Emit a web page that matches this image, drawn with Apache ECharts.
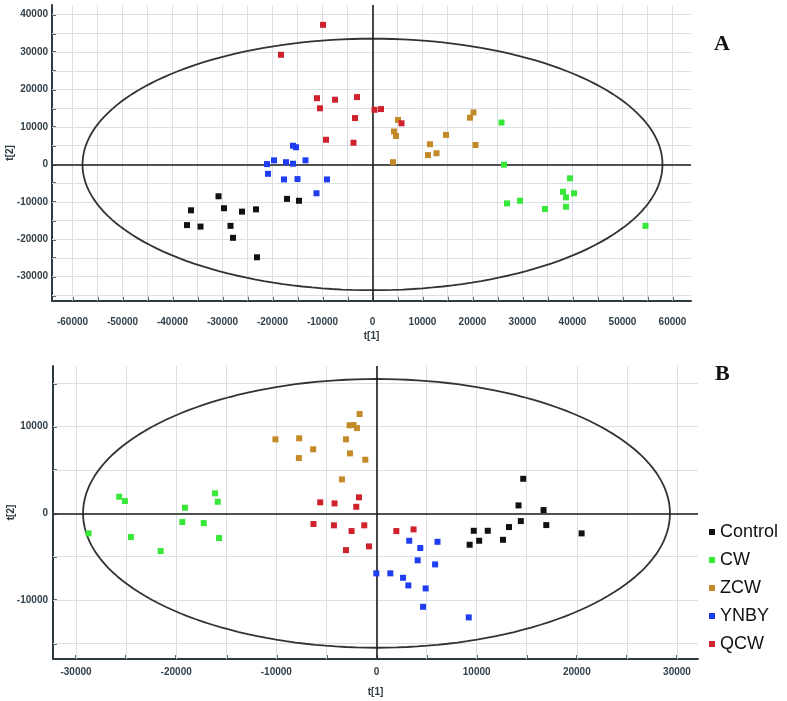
<!DOCTYPE html>
<html><head><meta charset="utf-8">
<script src="https://cdn.jsdelivr.net/npm/echarts@6/dist/echarts.min.js"></script>
<style>html,body{margin:0;padding:0;background:#fff}#c{width:787px;height:701px}</style>
</head><body><div id="c"></div>
<script>
// ---------- data ----------
const groups = ['Control', 'CW', 'ZCW', 'YNBY', 'QCW'];
const groupColors = ['#111111', '#38e838', '#c48a28', '#1f3ef2', '#d0222c'];

// Panel A  [t1, t2]
const controlA = [[-30800,-8500],[-36300,-12250],[-29700,-11700],[-26100,-12600],[-23300,-12000],[-17100,-9200],[-14700,-9700],[-37100,-16200],[-34400,-16600],[-28400,-16400],[-27900,-19600],[-23100,-24800]];
const cwA = [[25800,11200],[26300,-50],[26900,-10400],[29500,-9700],[34500,-11900],[39500,-3700],[38100,-7300],[38700,-8800],[40300,-7700],[38700,-11300],[54600,-16400]];
const zcwA = [[5100,11900],[4300,8800],[4700,7600],[4100,600],[11500,5400],[11100,2500],[12800,3000],[14700,7900],[19500,12500],[20200,13900],[20600,5200]];
const ynbyA = [[-21100,100],[-19700,1100],[-20900,-2500],[-17300,600],[-15900,200],[-15900,5000],[-15300,4600],[-13400,1100],[-17700,-4000],[-15000,-3900],[-9100,-4000],[-11200,-7700]];
const qcwA = [[-9900,37300],[-18300,29300],[-11100,17700],[-7500,17300],[-3100,18000],[-10500,15000],[-3500,12400],[-9300,6600],[-3800,5800],[400,14600],[1700,14800],[5800,11000]];

// Panel B  [t1, t2]
const controlB = [[14650,3990],[14180,920],[16680,380],[14410,-890],[16950,-1350],[20480,-2310],[9710,-2010],[11110,-2010],[13230,-1580],[9300,-3620],[10250,-3160],[12630,-3050]];
const cwB = [[-25690,1920],[-25120,1420],[-28750,-2310],[-24520,-2730],[-21550,-4350],[-19120,650],[-19390,-1000],[-17250,-1120],[-16120,2310],[-15850,1340],[-15720,-2850]];
const zcwB = [[-10090,8540],[-7720,8660],[-7750,6380],[-6320,7390],[-3050,8540],[-2650,6920],[-2690,10160],[-2290,10190],[-1950,9840],[-1690,11460],[-1120,6190],[-3450,3920]];
const ynbyB = [[-20,-6920],[1380,-6920],[3270,-3160],[4370,-4000],[6090,-3280],[4110,-5420],[5850,-5890],[2650,-7430],[3180,-8310],[4910,-8660],[4650,-10780],[9210,-12000]];
const qcwB = [[-5620,1270],[-4190,1150],[-1750,1850],[-2020,760],[-6290,-1230],[-4250,-1380],[-2490,-2040],[-1220,-1380],[-3050,-4240],[-750,-3810],[1980,-2040],[3700,-1850]];

// Hotelling T2 ellipse semi-axes [t1, t2]
const ellipseA = [58000, 33600];
const ellipseB = [29300, 15500];

// axis ranges
const xRangeA = [-64100, 63700];
const yRangeA = [-36400, 42600];
const xRangeB = [-32300, 32100];
const yRangeB = [-16800, 17000];

// ticks (also grid lines) and tick labels
const xTicksA = [-60000,-55000,-50000,-45000,-40000,-35000,-30000,-25000,-20000,-15000,-10000,-5000,0,5000,10000,15000,20000,25000,30000,35000,40000,45000,50000,55000,60000];
const xLabelsA = [-60000,-50000,-40000,-30000,-20000,-10000,0,10000,20000,30000,40000,50000,60000];
const yTicksA = [-35000,-30000,-25000,-20000,-15000,-10000,-5000,0,5000,10000,15000,20000,25000,30000,35000,40000];
const yLabelsA = [-30000,-20000,-10000,0,10000,20000,30000,40000];
const xTicksB = [-30000,-25000,-20000,-15000,-10000,-5000,0,5000,10000,15000,20000,25000,30000];
const xLabelsB = [-30000,-20000,-10000,0,10000,20000,30000];
const yTicksB = [-15000,-10000,-5000,0,5000,10000,15000];
const yLabelsB = [-10000,0,10000];

// ---------- chart ----------
const axisColor = '#2c3a42';
const gridColor = '#d9e1e6';
const labelFont = {fontFamily: '"Liberation Sans", Arial, sans-serif', fontWeight: 'bold', fontSize: 10, color: '#34414a'};

function ellipsePoints(ax) {
  const pts = [];
  for (let i = 0; i <= 360; i += 2) {
    const t = i * Math.PI / 180;
    pts.push([ax[0] * Math.cos(t), ax[1] * Math.sin(t)]);
  }
  return pts;
}

function makeAxis(dim, gridIndex, range, ticks, labels, margin, nameGap) {
  const a = {
    type: 'value', gridIndex: gridIndex, min: range[0], max: range[1],
    axisLine: {show: true, onZero: false, lineStyle: {color: axisColor, width: 2}},
    axisTick: {show: true, inside: true, length: 4, customValues: ticks, lineStyle: {color: axisColor, width: 1.5}},
    axisLabel: Object.assign({customValues: labels, margin: margin, formatter: function (v) { return String(v); }}, labelFont),
    splitLine: {show: false},
    name: dim === 'x' ? 't[1]' : 't[2]',
    nameLocation: 'middle', nameGap: nameGap, nameMoveOverlap: false,
    nameTextStyle: Object.assign({}, labelFont, {color: '#2c3a42'})
  };
  if (dim === 'y') a.nameRotate = 90;
  return a;
}

const panels = [
  [controlA, cwA, zcwA, ynbyA, qcwA],
  [controlB, cwB, zcwB, ynbyB, qcwB]
];
const ellipses = [ellipseA, ellipseB];
const gridTicks = [[xTicksA, yTicksA], [xTicksB, yTicksB]];

const series = [];
[0, 1].forEach(function (p) {
  // grid lines at tick values
  const gl = gridTicks[p][0].map(function (v) { return {xAxis: v}; })
    .concat(gridTicks[p][1].map(function (v) { return {yAxis: v}; }));
  series.push({
    type: 'line', xAxisIndex: p, yAxisIndex: p, data: [], silent: true, z: 1,
    markLine: {
      silent: true, symbol: ['none', 'none'], label: {show: false}, z: 1,
      lineStyle: {color: gridColor, width: 1, type: 'solid'},
      emphasis: {disabled: true},
      data: gl
    }
  });
  series.push({
    type: 'line', xAxisIndex: p, yAxisIndex: p,
    data: ellipsePoints(ellipses[p]), showSymbol: false, symbol: 'none',
    lineStyle: {color: '#333333', width: 1.8}, silent: true, z: 3,
    markLine: {
      silent: true, symbol: ['none', 'none'], label: {show: false},
      lineStyle: {color: '#1c1c1c', width: 1.6, type: 'solid'},
      data: [{xAxis: 0}, {yAxis: 0}]
    }
  });
  groups.forEach(function (g, i) {
    series.push({
      name: g, type: 'scatter', xAxisIndex: p, yAxisIndex: p,
      data: panels[p][i], symbol: 'rect', symbolSize: 6,
      itemStyle: {color: groupColors[i], opacity: 1}, z: 5
    });
  });
});

const chart = echarts.init(document.getElementById('c'), null, {renderer: 'canvas'});
chart.setOption({
  animation: false,
  backgroundColor: '#ffffff',
  title: [
    {text: 'A', left: 714, top: 33, padding: 0, textStyle: {fontFamily: '"Liberation Serif", "Times New Roman", serif', fontWeight: 'bold', fontSize: 22, color: '#111'}},
    {text: 'B', left: 715, top: 363, padding: 0, textStyle: {fontFamily: '"Liberation Serif", "Times New Roman", serif', fontWeight: 'bold', fontSize: 22, color: '#111'}}
  ],
  legend: {
    orient: 'vertical', left: 709, top: 523, padding: 0,
    itemWidth: 6, itemHeight: 6, itemGap: 10, icon: 'rect',
    textStyle: {fontFamily: '"Liberation Sans", Arial, sans-serif', fontSize: 18, color: '#111'},
    data: groups
  },
  grid: [
    {left: 52, top: 5, width: 639, height: 295.7, containLabel: false, outerBoundsMode: 'none'},
    {left: 53, top: 366, width: 645, height: 293, containLabel: false, outerBoundsMode: 'none'}
  ],
  xAxis: [
    makeAxis('x', 0, xRangeA, xTicksA, xLabelsA, 17, 31),
    makeAxis('x', 1, xRangeB, xTicksB, xLabelsB, 8, 28)
  ],
  yAxis: [
    makeAxis('y', 0, yRangeA, yTicksA, yLabelsA, 4, 37),
    makeAxis('y', 1, yRangeB, yTicksB, yLabelsB, 5, 37)
  ],
  series: series
});
</script>
</body></html>
